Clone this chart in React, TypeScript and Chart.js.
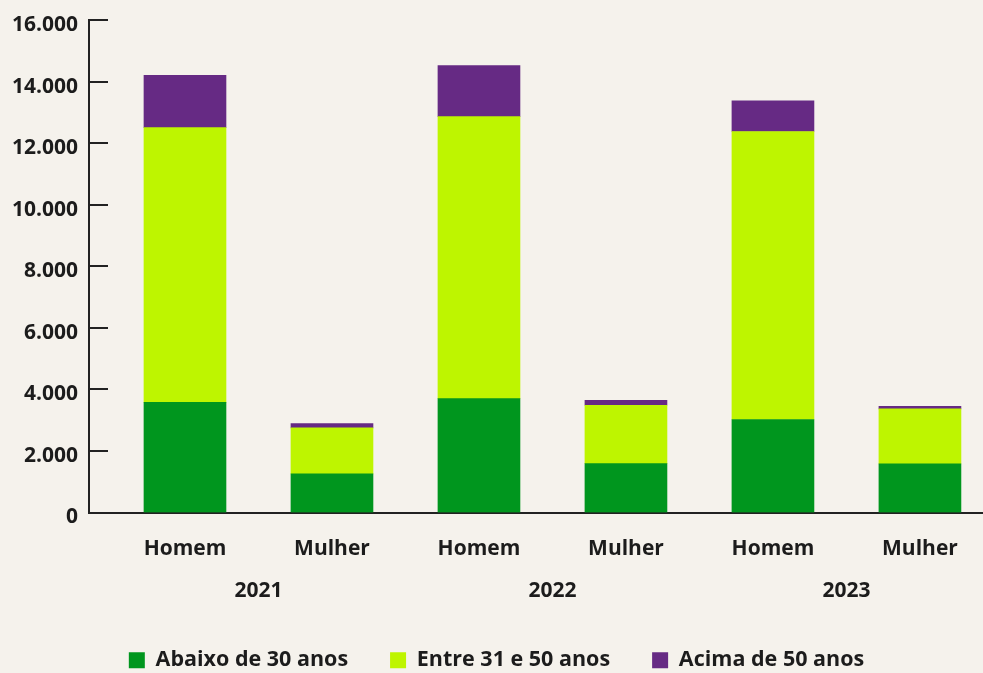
import React, { useEffect, useRef } from "react";
import { Chart, registerables } from "chart.js";

Chart.register(...registerables);

const categories = ["Homem", "Mulher", "Homem", "Mulher", "Homem", "Mulher"];
const categoryIndex = [0, 1, 2, 3, 4, 5];
const years = ["2021", "2022", "2023"];
const yearPositions = [0.5, 2.5, 4.5];
const abaixo30 = [3580, 1255, 3700, 1590, 3020, 1580];
const entre31e50 = [8925, 1493, 9163, 1893, 9357, 1785];
const acima50 = [1700, 140, 1655, 162, 994, 86];
const yTicks = [0, 2000, 4000, 6000, 8000, 10000, 12000, 14000, 16000];

const FONT = "'Open Sans', 'Noto Sans', sans-serif";
const TEXT = "#1c1c1c";
const AXIS = "#222222";
const BG = "#f5f2ec";

const innerTicks = {
  id: "innerTicks",
  afterDraw(chart: any) {
    const y = chart.scales.y;
    const ctx = chart.ctx;
    const left = chart.chartArea.left;
    ctx.save();
    ctx.strokeStyle = AXIS;
    ctx.lineWidth = 2;
    y.ticks.forEach((t: any) => {
      const py = Math.round(y.getPixelForValue(t.value));
      ctx.beginPath();
      ctx.moveTo(left, py);
      ctx.lineTo(left + 19, py);
      ctx.stroke();
    });
    ctx.restore();
  },
};

export default function App() {
  const ref = useRef<HTMLCanvasElement | null>(null);
  useEffect(() => {
    document.body.style.margin = "0";
    document.body.style.background = BG;
    if (!ref.current) return;
    const mk = (vals: number[]) => vals.map((v, i) => ({ x: categoryIndex[i], y: v }));
    const chart = new Chart(ref.current, {
      type: "bar",
      data: {
        datasets: [
          { label: "Abaixo de 30 anos", data: mk(abaixo30), backgroundColor: "#00961e", barThickness: 82 },
          { label: "Entre 31 e 50 anos", data: mk(entre31e50), backgroundColor: "#bef500", barThickness: 82 },
          { label: "Acima de 50 anos", data: mk(acima50), backgroundColor: "#662a84", barThickness: 82 },
        ],
      },
      options: {
        animation: false,
        responsive: false,
        layout: { padding: { top: 20, right: 0, left: 10, bottom: -8 } },
        plugins: {
          tooltip: { enabled: false },
          legend: {
            position: "bottom",
            labels: {
              boxWidth: 16,
              boxHeight: 16,
              padding: 42,
              color: TEXT,
              font: { family: FONT, size: 21.5, weight: "bold" },
            },
          },
        },
        scales: {
          x: {
            type: "linear",
            stacked: true,
            offset: false,
            min: -0.653,
            max: 5.429,
            weight: 1,
            afterBuildTicks: (s: any) => {
              s.ticks = categoryIndex.map((v) => ({ value: v }));
            },
            afterFit: (s: any) => {
              s.height = 57;
              s.paddingLeft = 0;
              s.paddingRight = 0;
            },
            grid: { display: false, drawTicks: false, offset: false },
            border: { display: true, color: AXIS, width: 2 },
            ticks: {
              autoSkip: false,
              maxRotation: 0,
              padding: 24,
              color: TEXT,
              font: { family: FONT, size: 21, weight: "bold" },
              callback: (v: any) => categories[Number(v)] ?? "",
            },
          },
          x2: {
            type: "linear",
            position: "bottom",
            offset: false,
            min: -0.653,
            max: 5.429,
            weight: 2,
            afterBuildTicks: (s: any) => {
              s.ticks = yearPositions.map((v) => ({ value: v }));
            },
            afterFit: (s: any) => {
              s.height = 38;
              s.paddingLeft = 0;
              s.paddingRight = 0;
            },
            grid: { display: false, drawTicks: false, offset: false },
            border: { display: false },
            ticks: {
              autoSkip: false,
              maxRotation: 0,
              padding: 9,
              color: TEXT,
              font: { family: FONT, size: 21, weight: "bold" },
              callback: (v: any) => {
                const i = yearPositions.indexOf(Number(v));
                return i >= 0 ? years[i] : "";
              },
            },
          },
          y: {
            stacked: true,
            min: 0,
            max: 16000,
            afterBuildTicks: (s: any) => {
              s.ticks = yTicks.map((v) => ({ value: v }));
            },
            afterFit: (s: any) => {
              s.width = 79;
              s.paddingTop = 0;
              s.paddingBottom = 0;
            },
            grid: { display: false, drawTicks: false },
            border: { display: true, color: AXIS, width: 2 },
            ticks: {
              padding: 11,
              labelOffset: 5,
              color: TEXT,
              font: { family: FONT, size: 21, weight: "bold" },
              callback: (v: any) => Number(v).toLocaleString("de-DE"),
            },
          },
        },
      },
      plugins: [innerTicks],
    } as any);
    return () => chart.destroy();
  }, []);
  return (
    <div style={{ width: 983, height: 673, overflow: "hidden", background: BG }}>
      <canvas ref={ref} width={983} height={673} style={{ display: "block" }} />
    </div>
  );
}
